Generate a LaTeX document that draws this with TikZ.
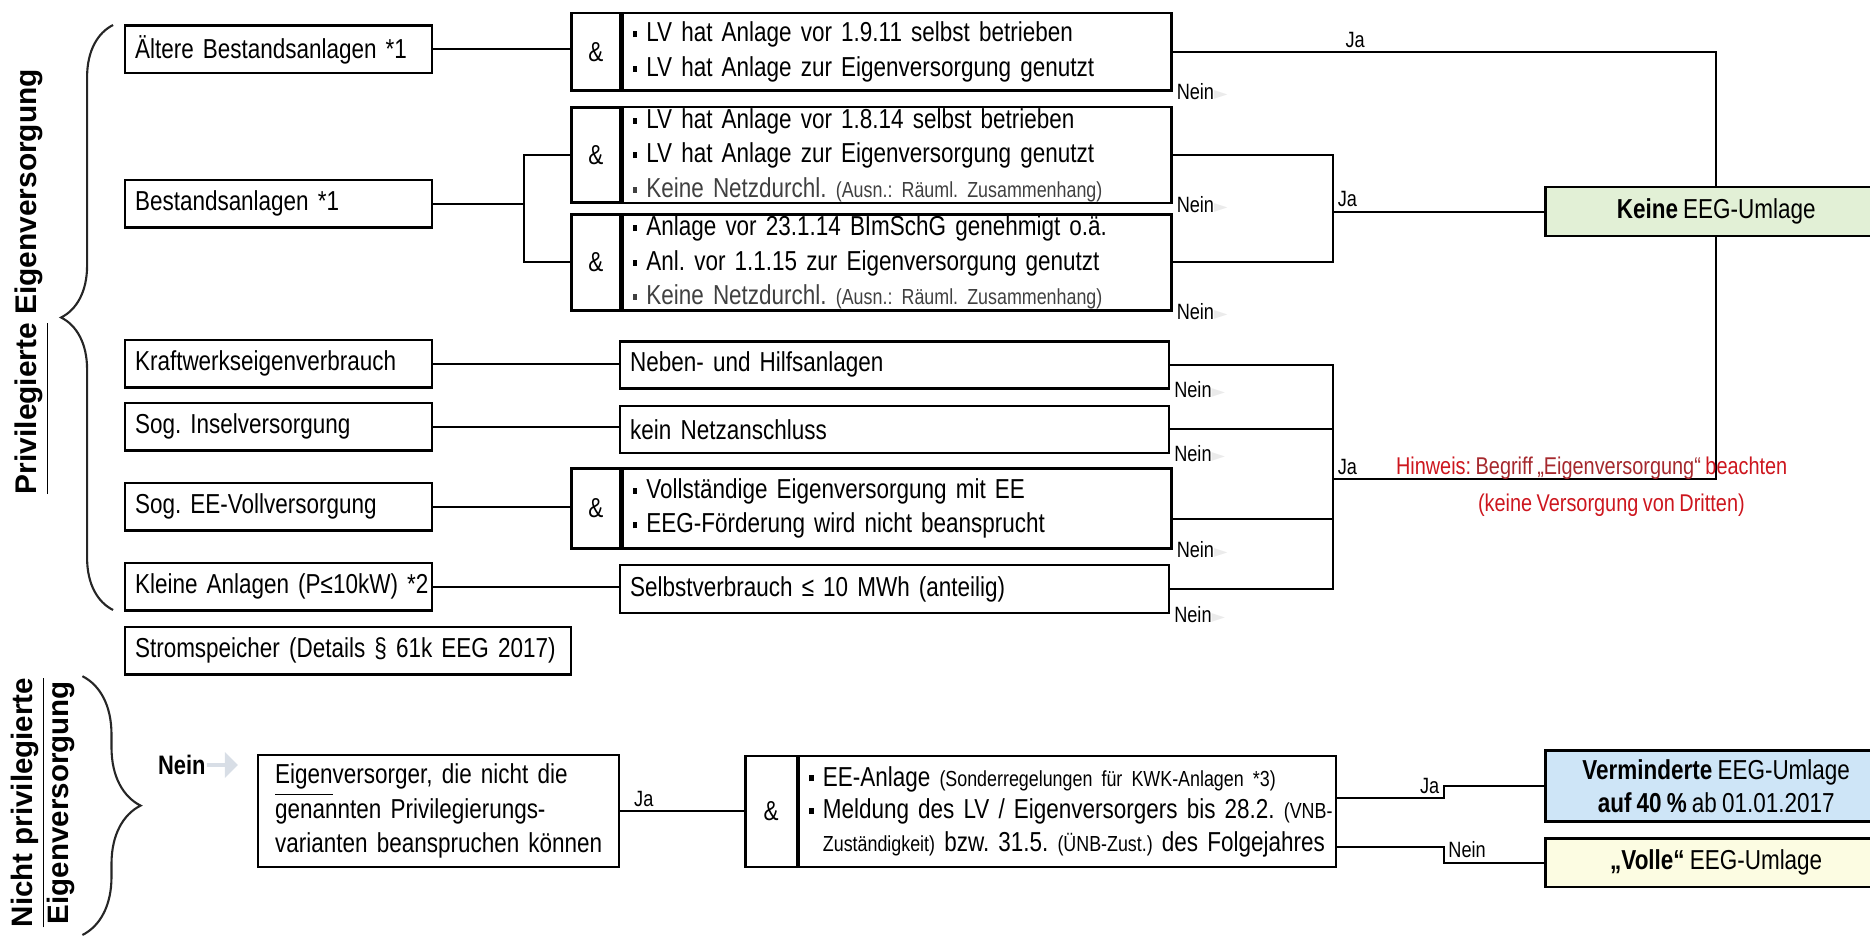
\documentclass[tikz,border=0pt]{standalone}
\usepackage{fontspec}
\setmainfont{Liberation Sans}
\newfontfamily\narrowfont[FakeStretch=0.82, WordSpace=0.82]{Liberation Sans}
\newfontfamily\symbfont{DejaVu Sans}
\usepackage{xcolor}
\usepackage{tikz}
\usetikzlibrary{positioning, calc, decorations.pathreplacing, shapes.arrows}
\definecolor{keinegreen}{RGB}{226,240,214}
\definecolor{minderblue}{RGB}{206,229,247}
\definecolor{volleyellow}{RGB}{252,252,226}
\definecolor{hintred}{RGB}{205,22,30}
\definecolor{hintdark}{RGB}{165,40,45}
\definecolor{arrowgray}{RGB}{216,222,230}
\newcommand{\boxfont}{\narrowfont\fontsize{7.8}{9.8}\selectfont}
\newcommand{\lblfont}{\narrowfont\fontsize{6.3}{7.5}\selectfont}
\newcommand{\smallpart}[1]{{\fontsize{6.2}{7}\selectfont #1}}
\newcommand{\qbullet}{\rule[1.3pt]{1.3pt}{1.7pt}\hspace{2.6pt}}
\newcommand{\neinmark}{Nein{\symbfont\fontsize{5}{5}\selectfont\color{black!8}►}}
\frenchspacing

\begin{document}
\begin{tikzpicture}[
    item/.style={rectangle, draw, line width=0.7pt, minimum width=3.072cm, minimum height=0.475cm, text width=2.872cm, inner xsep=0.1cm, inner ysep=0pt, align=left, font=\boxfont, anchor=west},
    gate/.style={rectangle, draw, line width=0.7pt, minimum width=0.489cm, inner sep=0pt, font=\boxfont, anchor=west},
    cond/.style={rectangle, draw, line width=0.7pt, minimum width=5.486cm, text width=5.286cm, inner xsep=0.1cm, inner ysep=0.4pt, align=left, font=\boxfont},
    result/.style={rectangle, draw, line width=0.7pt, minimum width=3.412cm, inner sep=0pt, align=center, font=\boxfont},
    link/.style={line width=0.6pt},
    lbl/.style={font=\lblfont, inner sep=1pt},
    curly/.style={decorate, decoration={brace, amplitude=#1}, line width=0.6pt, black!85}
]
    \useasboundingbox (0,0) rectangle (18.70,-9.38);

    \node (privlbl) [rotate=90, anchor=base, inner sep=0pt, font=\bfseries\fontsize{8.5}{10}\selectfont] at (0.364,-2.815) {\underline{Privilegierte} Eigenversorgung};
    \draw [curly=0.52cm] (1.131,-6.100) -- (1.131,-0.250);

    \node (aelt) [item] at (1.238,-0.494) {Ältere Bestandsanlagen *1};
    \node (bestand) [item] at (1.238,-2.039) {Bestandsanlagen *1};
    \node (kraft) [item] at (1.238,-3.637) {Kraftwerkseigenverbrauch};
    \node (insel) [item] at (1.238,-4.269) {Sog. Inselversorgung};
    \node (vollv) [item] at (1.238,-5.069) {Sog. EE-Vollversorgung};
    \node (klein) [item] at (1.238,-5.868) {\mbox{Kleine Anlagen (P≤10kW) *2}};
    \node (speicher) [item, minimum width=4.458cm, text width=4.258cm] at (1.238,-6.509) {\mbox{Stromspeicher (Details § 61k EEG 2017)}};

    \node (und1) [gate, minimum height=0.775cm] at (5.701,-0.519) {\&};
    \node (bed1) [cond, minimum height=0.775cm, right=0pt of und1] {\qbullet LV hat Anlage vor 1.9.11 selbst betrieben\\\qbullet LV hat Anlage zur Eigenversorgung genutzt};
    \node (und2) [gate, minimum height=0.95cm] at (5.701,-1.550) {\&};
    \node (bed2) [cond, minimum height=0.95cm, right=0pt of und2] {\qbullet LV hat Anlage vor 1.8.14 selbst betrieben\\\qbullet LV hat Anlage zur Eigenversorgung genutzt\\{\color{black!75}\qbullet Keine Netzdurchl. \smallpart{(Ausn.: Räuml. Zusammenhang)}}};
    \node (und3) [gate, minimum height=0.96cm] at (5.701,-2.624) {\&};
    \node (bed3) [cond, minimum height=0.96cm, right=0pt of und3] {\qbullet Anlage vor 23.1.14 BImSchG genehmigt o.ä.\\\qbullet Anl. vor 1.1.15 zur Eigenversorgung genutzt\\{\color{black!75}\qbullet Keine Netzdurchl. \smallpart{(Ausn.: Räuml. Zusammenhang)}}};
    \node (neben) [cond, minimum height=0.471cm, anchor=west] at (6.190,-3.649) {Neben- und Hilfsanlagen};
    \node (netz) [cond, minimum height=0.471cm, anchor=west] at (6.190,-4.293) {kein Netzanschluss};
    \node (und4) [gate, minimum height=0.799cm] at (5.701,-5.086) {\&};
    \node (bed4) [cond, minimum height=0.799cm, right=0pt of und4] {\qbullet Vollständige Eigenversorgung mit EE\\\qbullet EEG-Förderung wird nicht beansprucht};
    \node (selbst) [cond, minimum height=0.477cm, anchor=west] at (6.190,-5.891) {Selbstverbrauch ≤ 10 MWh (anteilig)};

    \node (keine) [result, fill=keinegreen, minimum height=0.489cm] at (17.162,-2.117) {\textbf{Keine} EEG-Umlage};

    \draw [link] (aelt.east) -- (aelt.east -| und1.west);
    \coordinate (gabel) at (5.236,-2.039);
    \draw [link] (bestand.east) -- (gabel);
    \draw [link] (und2.west) -| (gabel) |- (und3.west);
    \draw [link] (kraft.east) -- (kraft.east -| neben.west);
    \draw [link] (insel.east) -- (insel.east -| netz.west);
    \draw [link] (vollv.east) -- (vollv.east -| und4.west);
    \draw [link] (klein.east) -- (klein.east -| selbst.west);

    \draw [link] (bed1.east) -| node[lbl, above, pos=0.168]{Ja} (keine.north);
    \coordinate (bus1) at (13.333,-2.117);
    \draw [link] (bed2.east) -| (bus1) |- (bed3.east);
    \draw [link] (bus1) -- node[lbl, pos=0, anchor=south west]{Ja} (keine.west);
    \coordinate (bus2) at (13.333,-4.792);
    \draw [link] (neben.east) -| (bus2) |- (selbst.east);
    \draw [link] (netz.east) -- (netz.east -| bus2);
    \draw [link] ([yshift=-1mm]bed4.east) -- ([yshift=-1mm]bed4.east -| bus2);
    \draw [link] (bus2) -| node[lbl, pos=0, anchor=south west]{Ja} (keine.south);

    \node (nein1) [lbl, anchor=west] at (bed1.south east) {\neinmark};
    \node (nein2) [lbl, anchor=west] at (bed2.south east) {\neinmark};
    \node (nein3) [lbl, anchor=west] at (bed3.south east) {\neinmark};
    \node (nein4) [lbl, anchor=west] at (neben.south east) {\neinmark};
    \node (nein5) [lbl, anchor=west] at (netz.south east) {\neinmark};
    \node (nein6) [lbl, anchor=west] at (bed4.south east) {\neinmark};
    \node (nein7) [lbl, anchor=west] at (selbst.south east) {\neinmark};

    \node (hinweis) [anchor=north west, align=left, inner sep=0pt, text=hintred, font=\narrowfont\fontsize{6.9}{10.5}\selectfont] at (13.953,-4.565) {Hinweis: {\color{hintdark}Begriff „Eigenversorgung“} beachten\\\hspace*{0.82cm}(keine Versorgung von Dritten)};

    \node (nichtlbl) [rotate=90, align=center, inner sep=0pt, font=\bfseries\fontsize{8.4}{10.3}\selectfont] at (0.427,-8.026) {\underline{Nicht privilegierte}\\Eigenversorgung};
    \draw [curly=0.582cm] (0.824,-6.762) -- (0.824,-9.350);
    \node (neinunten) [anchor=west, inner sep=0pt, font=\narrowfont\bfseries\fontsize{7.6}{9}\selectfont] at (1.574,-7.650) {Nein};
    \node (neinpfeil) [single arrow, fill=arrowgray, minimum height=0.31cm, minimum width=0.26cm, single arrow head extend=0.4mm, inner sep=0pt, right=0pt of neinunten] {};
    \node (eigen) [item, minimum width=3.608cm, text width=3.268cm, inner xsep=0.17cm, minimum height=1.121cm] at (2.570,-8.110) {\underline{Eigen}versorger, die nicht die\\genannten Privilegierungs-\\\mbox{varianten beanspruchen können}};
    \node (und5) [gate, minimum width=0.513cm, minimum height=1.109cm] at (7.442,-8.116) {\&};
    \node (bed5) [cond, minimum width=5.366cm, text width=5.166cm, minimum height=1.109cm, font=\narrowfont\fontsize{7.8}{9.3}\selectfont, right=0pt of und5] {\qbullet EE-Anlage \smallpart{(Sonderregelungen für KWK-Anlagen *3)}\\\mbox{\qbullet Meldung des LV / Eigenversorgers bis 28.2. \smallpart{(VNB-}}\\\mbox{\hphantom{\qbullet}\smallpart{Zuständigkeit)} bzw. 31.5. \smallpart{(ÜNB-Zust.)} des Folgejahres}};
    \node (minder) [result, fill=minderblue, minimum height=0.710cm, font=\narrowfont\fontsize{7.8}{9.5}\selectfont] at (17.162,-7.862) {\textbf{Verminderte} EEG-Umlage\\\textbf{auf 40 \%} ab 01.01.2017};
    \node (volle) [result, fill=volleyellow, minimum height=0.483cm] at (17.162,-8.626) {\textbf{„Volle“} EEG-Umlage};

    \draw [link] (eigen.east) -- node[lbl, above, pos=0.19]{Ja} (eigen.east -| und5.west);
    \draw [link] ([yshift=1.38mm]bed5.east) -- ++(1.068,0) node[lbl, above left]{Ja} |- (minder.west);
    \draw [link] ([yshift=-3.51mm]bed5.east) -- ++(1.068,0) |- node[lbl, pos=0.5, above right]{Nein} (volle.west);
\end{tikzpicture}
\end{document}
